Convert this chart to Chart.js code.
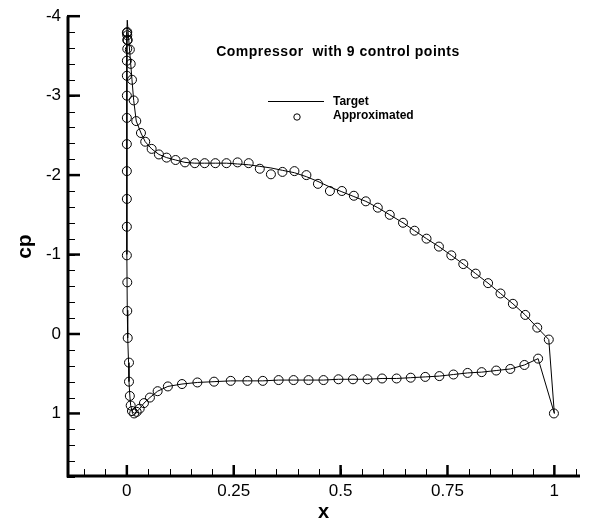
<!DOCTYPE html>
<html><head><meta charset="utf-8">
<script src="https://cdn.jsdelivr.net/npm/chart.js@4.4.0/dist/chart.umd.min.js"></script>
<style>html,body{margin:0;padding:0;background:#fff;} canvas{display:block;}</style>
</head><body>
<canvas id="c" width="589" height="524"></canvas>
<script>
// ---- data ----
const titleText = 'Compressor  with 9 control points';
const seriesNames = ['Target', 'Approximated'];
const xAxisTitle = 'x';
const yAxisTitle = 'cp';
const xTickValues = [0, 0.25, 0.5, 0.75, 1];
const xTickLabels = ['0', '0.25', '0.5', '0.75', '1'];
const yTickValues = [-4, -3, -2, -1, 0, 1];
const yTickLabels = ['-4', '-3', '-2', '-1', '0', '1'];

// Target curve: trailing edge -> suction side -> leading edge -> pressure side -> trailing edge
const targetX = [1.0, 0.987, 0.96, 0.932, 0.903, 0.874, 0.845, 0.816, 0.787, 0.759, 0.73, 0.701, 0.673, 0.646, 0.615, 0.587, 0.559, 0.531, 0.503, 0.475, 0.447, 0.42, 0.392, 0.364, 0.337, 0.311, 0.285, 0.259, 0.233, 0.207, 0.182, 0.159, 0.136, 0.114, 0.093, 0.075, 0.058, 0.043, 0.033, 0.022, 0.016, 0.012, 0.009, 0.006, 0.003, 0.001,
  0.0, 0.0, 0.0, 0.0, 0.001, 0.002, 0.004, 0.005, 0.007, 0.009, 0.012, 0.017, 0.023, 0.03, 0.04, 0.054, 0.072, 0.096, 0.129, 0.165, 0.204, 0.243, 0.282, 0.318, 0.355, 0.39, 0.425, 0.46, 0.495, 0.529, 0.563, 0.597, 0.631, 0.664, 0.698, 0.731, 0.764, 0.797, 0.83, 0.864, 0.897, 0.93, 0.962, 1.0];
const targetCp = [1.0, 0.07, -0.08, -0.24, -0.38, -0.51, -0.64, -0.76, -0.88, -0.99, -1.10, -1.20, -1.30, -1.40, -1.50, -1.59, -1.67, -1.73, -1.79, -1.85, -1.92, -1.98, -2.03, -2.06, -2.09, -2.11, -2.13, -2.14, -2.15, -2.15, -2.15, -2.15, -2.16, -2.19, -2.22, -2.26, -2.33, -2.42, -2.53, -2.68, -2.94, -3.20, -3.40, -3.60, -3.80, -3.95,
  -3.80, -3.0, -2.0, -1.0, -0.30, 0.05, 0.36, 0.60, 0.78, 0.90, 0.97, 1.00, 0.98, 0.94, 0.87, 0.80, 0.72, 0.66, 0.63, 0.61, 0.60, 0.59, 0.59, 0.59, 0.58, 0.58, 0.58, 0.58, 0.57, 0.57, 0.57, 0.56, 0.56, 0.55, 0.54, 0.53, 0.51, 0.49, 0.48, 0.46, 0.44, 0.39, 0.31, 1.0];

// Approximated points (suction side, then pressure side)
const approxX = [0.000, 0.002, 0.007, 0.009, 0.012, 0.016, 0.022, 0.033, 0.043, 0.058, 0.075, 0.093, 0.114, 0.136, 0.159, 0.182, 0.207, 0.233, 0.259, 0.285, 0.311, 0.337, 0.364, 0.392, 0.420, 0.447, 0.475, 0.503, 0.531, 0.559, 0.587, 0.615, 0.646, 0.673, 0.701, 0.730, 0.759, 0.787, 0.816, 0.845, 0.874, 0.903, 0.932, 0.960, 0.987, 0.999,
  0.001, 0.001, 0.001, 0.001, 0.000, 0.000, 0.000, 0.000, 0.000, 0.000, 0.000, 0.000, 0.000, 0.001, 0.001, 0.002, 0.005, 0.005, 0.007, 0.009, 0.012, 0.017, 0.023, 0.030, 0.040, 0.054, 0.072, 0.096, 0.129, 0.165, 0.204, 0.243, 0.282, 0.318, 0.355, 0.390, 0.425, 0.460, 0.495, 0.529, 0.563, 0.597, 0.631, 0.664, 0.698, 0.731, 0.764, 0.797, 0.830, 0.864, 0.897, 0.930, 0.962];
const approxCp = [-3.79, -3.70, -3.58, -3.40, -3.20, -2.94, -2.68, -2.53, -2.42, -2.33, -2.26, -2.22, -2.19, -2.16, -2.15, -2.15, -2.15, -2.15, -2.16, -2.15, -2.08, -2.01, -2.04, -2.05, -2.00, -1.89, -1.80, -1.80, -1.74, -1.67, -1.59, -1.50, -1.40, -1.30, -1.20, -1.10, -0.99, -0.88, -0.76, -0.64, -0.51, -0.38, -0.24, -0.08, 0.07, 1.00,
  -3.80, -3.76, -3.70, -3.59, -3.44, -3.25, -3.00, -2.72, -2.39, -2.05, -1.70, -1.35, -0.99, -0.65, -0.29, 0.05, 0.36, 0.60, 0.78, 0.90, 0.97, 1.00, 0.98, 0.94, 0.87, 0.80, 0.72, 0.66, 0.63, 0.61, 0.60, 0.59, 0.59, 0.59, 0.58, 0.58, 0.58, 0.58, 0.57, 0.57, 0.57, 0.56, 0.56, 0.55, 0.54, 0.53, 0.51, 0.49, 0.48, 0.46, 0.44, 0.39, 0.31];

const FAM = '"Liberation Sans", Arial, Helvetica, sans-serif';

const decorPlugin = {
  id: 'decor',
  afterDraw(chart) {
    const {ctx, chartArea: {left, top, right, bottom}, scales: {x, y}} = chart;
    ctx.save();
    ctx.strokeStyle = '#000';
    ctx.fillStyle = '#000';
    const seg = (x1, y1, x2, y2) => { ctx.beginPath(); ctx.moveTo(x1, y1); ctx.lineTo(x2, y2); ctx.stroke(); };
    // axis lines
    ctx.lineWidth = 3;
    ctx.beginPath(); ctx.moveTo(left + 1, top); ctx.lineTo(left + 1, bottom - 1); ctx.lineTo(right, bottom - 1); ctx.stroke();
    // y major ticks
    ctx.lineWidth = 2.5;
    yTickValues.forEach(v => { const p = y.getPixelForValue(v); seg(left, p, left + 13, p); });
    // y minor ticks
    ctx.lineWidth = 1;
    for (let i = 0; i <= 29; i++) {
      const v = y.min + i * 0.2;
      const p = Math.round(y.getPixelForValue(v)) + 0.5;
      seg(left, p, left + 8, p);
    }
    // x major ticks
    ctx.lineWidth = 2.5;
    xTickValues.forEach(v => { const p = x.getPixelForValue(v); seg(p, bottom, p, bottom - 12); });
    // x minor ticks
    ctx.lineWidth = 1;
    for (let i = -2; i <= 21; i++) {
      const v = i * 0.05;
      if (v < x.min || v > x.max) continue;
      const p = Math.round(x.getPixelForValue(v)) + 0.5;
      seg(p, bottom, p, bottom - 8);
    }
    // title
    ctx.font = 'bold 14px ' + FAM;
    ctx.textAlign = 'center';
    ctx.textBaseline = 'middle';
    try { ctx.letterSpacing = '0.5px'; } catch (e) {}
    ctx.fillText(titleText, 338, 52);
    try { ctx.letterSpacing = '0px'; } catch (e) {}
    // legend
    ctx.lineWidth = 1;
    seg(268, 101.5, 324, 101.5);
    ctx.beginPath(); ctx.arc(297, 117, 3.2, 0, Math.PI * 2); ctx.stroke();
    ctx.font = 'bold 12px ' + FAM;
    ctx.textAlign = 'left';
    ctx.fillText(seriesNames[0], 333, 102);
    ctx.fillText(seriesNames[1], 333, 116);
    ctx.restore();
  }
};

new Chart(document.getElementById('c'), {
  type: 'scatter',
  data: {
    datasets: [
      {
        label: seriesNames[0],
        data: targetX.map((v, i) => ({x: v, y: targetCp[i]})),
        showLine: true, borderColor: '#000', borderWidth: 1, pointRadius: 0, tension: 0, fill: false
      },
      {
        label: seriesNames[1],
        data: approxX.map((v, i) => ({x: v, y: approxCp[i]})),
        showLine: false, pointRadius: 4.5, pointStyle: 'circle',
        pointBorderColor: '#000', pointBackgroundColor: 'rgba(0,0,0,0)', pointBorderWidth: 1
      }
    ]
  },
  options: {
    responsive: false, animation: false, devicePixelRatio: 1,
    layout: {padding: {left: 0, right: 9, top: 14, bottom: 0}},
    plugins: {legend: {display: false}, tooltip: {enabled: false}, title: {display: false}},
    scales: {
      x: {
        type: 'linear', min: -0.14, max: 1.06,
        grid: {display: false, drawTicks: false}, border: {display: false},
        afterBuildTicks: s => { s.ticks = xTickValues.map(v => ({value: v})); },
        afterFit: s => { s.height = 47; },
        ticks: {
          color: '#000', font: {family: FAM, size: 17}, padding: 4, maxRotation: 0, autoSkip: false,
          callback: v => { const i = xTickValues.indexOf(v); return i >= 0 ? xTickLabels[i] : ''; }
        },
        title: {display: true, text: xAxisTitle, color: '#000', font: {family: FAM, size: 20, weight: 'bold'}, padding: {top: 0, bottom: 0}}
      },
      y: {
        type: 'linear', min: -4, max: 1.8, reverse: true,
        grid: {display: false, drawTicks: false}, border: {display: false},
        afterBuildTicks: s => { s.ticks = yTickValues.map(v => ({value: v})); },
        afterFit: s => { s.width = 67; },
        ticks: {
          color: '#000', font: {family: FAM, size: 17}, padding: 6, autoSkip: false,
          callback: v => { const i = yTickValues.indexOf(v); return i >= 0 ? yTickLabels[i] : ''; }
        },
        title: {display: true, text: yAxisTitle, color: '#000', font: {family: FAM, size: 21, weight: 'bold'}, padding: {top: 13, bottom: 0}}
      }
    }
  },
  plugins: [decorPlugin]
});
</script>
</body></html>
